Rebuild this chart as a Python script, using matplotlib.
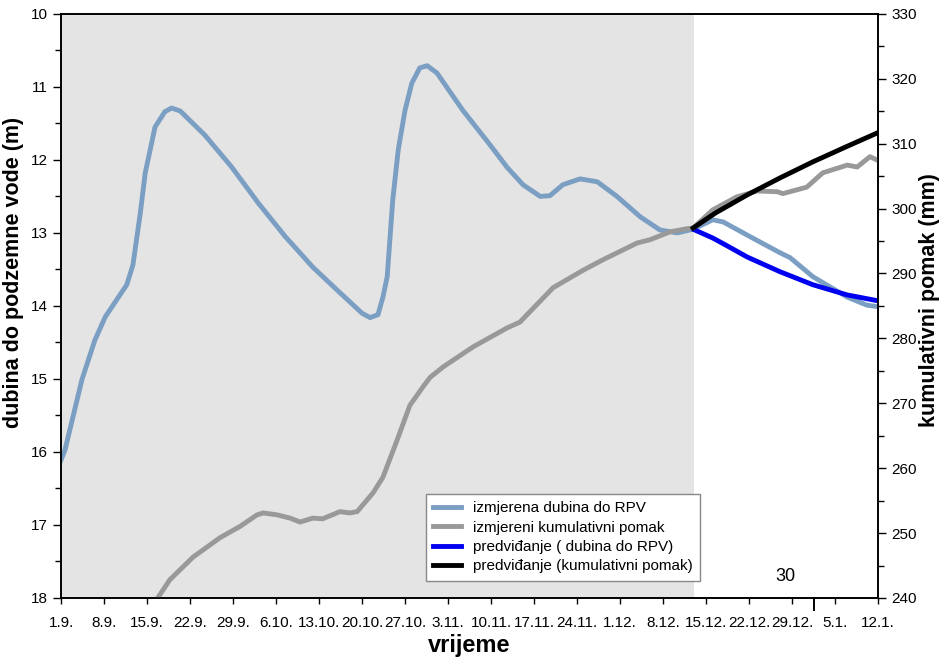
import matplotlib.pyplot as plt

plt.rcParams['font.family'] = ['Liberation Sans', 'DejaVu Sans']

# dani od 1.9.
tick_days = list(range(0, 134, 7))
tick_labels = ['1.9.', '8.9.', '15.9.', '22.9.', '29.9.', '6.10.', '13.10.', '20.10.',
               '27.10.', '3.11.', '10.11.', '17.11.', '24.11.', '1.12.', '8.12.',
               '15.12.', '22.12.', '29.12.', '5.1.', '12.1.']

# izmjerena dubina do RPV (m)
depth_days = [0, 0.65, 3.4, 5.5, 7.2, 10.7, 11.7, 12.9, 13.7, 15.3, 16.9, 18.0, 19.4,
              23.4, 27.8, 32.1, 36.5, 41.0, 44.9, 46.7, 49.0, 50.3, 51.6, 52.4, 53.1,
              54.0, 54.9, 56.0, 57.1, 58.4, 59.6, 61.2, 65.4, 69.8, 72.6, 75.2, 78.0,
              79.6, 81.7, 84.5, 87.3, 90.5, 94.3, 97.5, 100.3, 102.9, 106.1, 107.8,
              111.7, 117.0, 118.7, 122.4, 128.0, 131.2, 133.0]
depth = [16.11, 15.97, 15.01, 14.47, 14.15, 13.71, 13.44, 12.73, 12.18, 11.55, 11.34,
         11.29, 11.33, 11.66, 12.10, 12.59, 13.05, 13.47, 13.78, 13.92, 14.10, 14.16,
         14.12, 13.88, 13.60, 12.55, 11.86, 11.32, 10.95, 10.74, 10.71, 10.81, 11.32,
         11.79, 12.10, 12.34, 12.50, 12.49, 12.34, 12.26, 12.30, 12.50, 12.78, 12.96,
         13.00, 12.95, 12.82, 12.85, 13.03, 13.27, 13.34, 13.60, 13.88, 13.99, 14.01]

# izmjereni kumulativni pomak (mm)
disp_days = [15.6, 17.7, 21.5, 25.9, 29.1, 31.9, 32.9, 35.2, 37.3, 38.9, 41.0, 42.6,
             45.4, 47.0, 48.2, 50.8, 52.4, 54.7, 56.8, 58.9, 60.1, 62.2, 67.1, 72.6,
             74.7, 80.1, 85.0, 88.2, 93.8, 95.9, 99.1, 101.9, 102.9, 106.1, 110.0,
             113.3, 116.6, 117.5, 121.4, 124.0, 128.0, 129.6, 131.7, 133.0]
disp = [239.8, 242.8, 246.3, 249.3, 251.0, 252.8, 253.1, 252.8, 252.3, 251.7, 252.3,
        252.2, 253.3, 253.1, 253.3, 256.2, 258.6, 264.3, 269.7, 272.5, 274.0, 275.6,
        278.7, 281.6, 282.5, 287.8, 290.5, 292.1, 294.7, 295.2, 296.4, 296.9, 297.0,
        299.8, 301.8, 302.7, 302.6, 302.3, 303.3, 305.5, 306.7, 306.4, 308.0, 307.4]

# predviđanje
pred_days = [102.9, 106.1, 108.5, 111.7, 117.0, 122.4, 128.0, 133.0]
pred_depth = [12.95, 13.07, 13.18, 13.33, 13.53, 13.71, 13.85, 13.93]
pred_disp_days = [102.9, 106.5, 111.7, 117.0, 122.4, 128.0, 133.0]
pred_disp = [297.0, 299.3, 302.1, 304.7, 307.2, 309.6, 311.7]

fig = plt.figure(figsize=(9.45, 6.6), dpi=100)
ax1 = fig.add_axes([0.0646, 0.094, 0.8645, 0.885])
ax2 = ax1.twinx()

ax1.axvspan(0, 103, color='#e4e4e4', lw=0, zorder=0)

l1, = ax1.plot(depth_days, depth, color='#7b9ec3', lw=3.5, label='izmjerena dubina do RPV')
l3, = ax1.plot(pred_days, pred_depth, color='#0000f0', lw=3.5,
               label='predviđanje ( dubina do RPV)')
l2, = ax2.plot(disp_days, disp, color='#999999', lw=3.5,
               label='izmjereni kumulativni pomak')
l4, = ax2.plot(pred_disp_days, pred_disp, color='black', lw=3.5,
               label='predviđanje (kumulativni pomak)')

ax1.set_xlim(0, 133)
ax1.set_ylim(18, 10)
ax2.set_ylim(240, 330)

ax1.set_xticks(tick_days)
ax1.set_xticklabels(tick_labels)
ax1.set_yticks(range(10, 19))
ax1.set_yticks([y + 0.5 for y in range(10, 18)], minor=True)
ax2.set_yticks(range(240, 331, 10))
ax2.set_yticks(range(245, 330, 10), minor=True)

for ax in (ax1, ax2):
    ax.tick_params(which='major', direction='out', length=6, width=1, labelsize=11)
    ax.tick_params(which='minor', direction='out', length=4, width=1)
    for s in ax.spines.values():
        s.set_linewidth(1.2)
ax1.tick_params(axis='x', length=4, pad=9)

# duža oznaka za 1.1.
ax1.axvline(122.6, ymin=-0.02, ymax=0, color='black', lw=1.4, clip_on=False)
ax1.text(118, 17.7, '30', fontsize=13, ha='center', va='center')

ax1.set_xlabel('vrijeme', fontsize=17, fontweight='bold', labelpad=3)
ax1.set_ylabel('dubina do podzemne vode (m)', fontsize=15.5, fontweight='bold', labelpad=5)
ax2.set_ylabel('kumulativni pomak (mm)', fontsize=15.5, fontweight='bold', labelpad=2)
ax1.yaxis.label.set_y(0.558)
ax2.yaxis.label.set_y(0.51)

leg = ax1.legend(handles=[l1, l2, l3, l4], loc='lower left',
                 bbox_to_anchor=(0.437, 0.016), fontsize=11, fancybox=False,
                 framealpha=1, edgecolor='#888888', handlelength=1.8,
                 borderpad=0.5, labelspacing=0.35)
leg.get_frame().set_linewidth(1)
leg.set_zorder(10)

plt.savefig('out.png', dpi=100)
